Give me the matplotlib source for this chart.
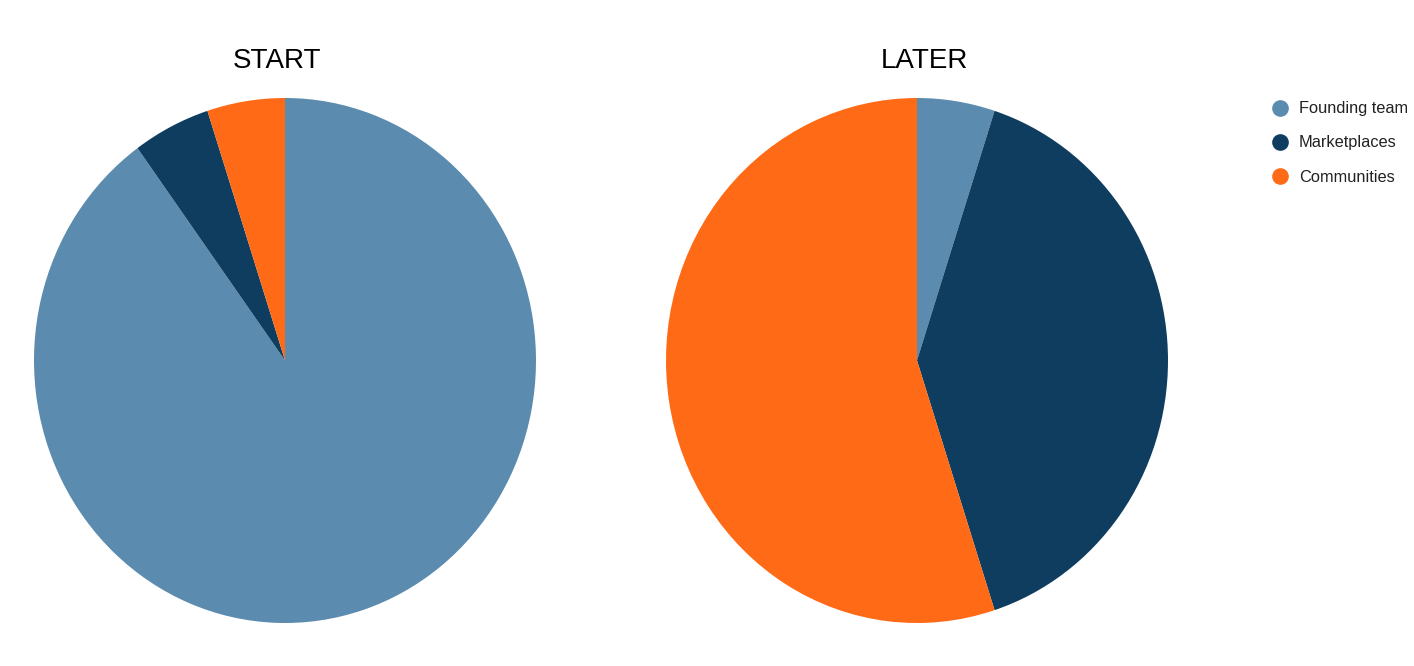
import matplotlib.pyplot as plt

plt.rcParams['font.family'] = ['Liberation Sans', 'DejaVu Sans']

# data
labels = ['Founding team', 'Marketplaces', 'Communities']
start_vals = [90, 5, 5]
later_vals = [5, 40, 55]
colors = ['#5b8bae', '#0f3d60', '#ff6a16']

W, H = 1414, 666
fig = plt.figure(figsize=(W / 100, H / 100), dpi=100)

def px_axes(x0, y0, x1, y1):
    # pixel box (top-left origin) -> figure axes
    return fig.add_axes([x0 / W, 1 - y1 / H, (x1 - x0) / W, (y1 - y0) / H])

ax1 = px_axes(34, 98, 536, 623)
ax2 = px_axes(666, 98, 1168, 623)

for ax, vals in [(ax1, start_vals), (ax2, later_vals)]:
    ax.pie(vals, colors=colors, startangle=90, counterclock=False,
           radius=1, wedgeprops=dict(linewidth=0))
    ax.set_aspect('auto')
    ax.set_xlim(-1, 1)
    ax.set_ylim(-1, 1)
    ax.axis('off')

fig.text(277 / W, 1 - 61 / H, 'START', ha='center', va='center', fontsize=20)
fig.text(924 / W, 1 - 61 / H, 'LATER', ha='center', va='center', fontsize=20)

# legend, drawn on a full-figure overlay in pixel units
lax = fig.add_axes([0, 0, 1, 1])
lax.set_xlim(0, W)
lax.set_ylim(H, 0)
lax.axis('off')
for i, (lab, c) in enumerate(zip(labels, colors)):
    y = 108 + 34 * i
    lax.plot([1280], [y], 'o', markersize=12, color=c, markeredgewidth=0)
    lax.text(1299, y + 1, lab, ha='left', va='center', fontsize=11.8, color='#222222')

fig.savefig('out.png', dpi=100)
